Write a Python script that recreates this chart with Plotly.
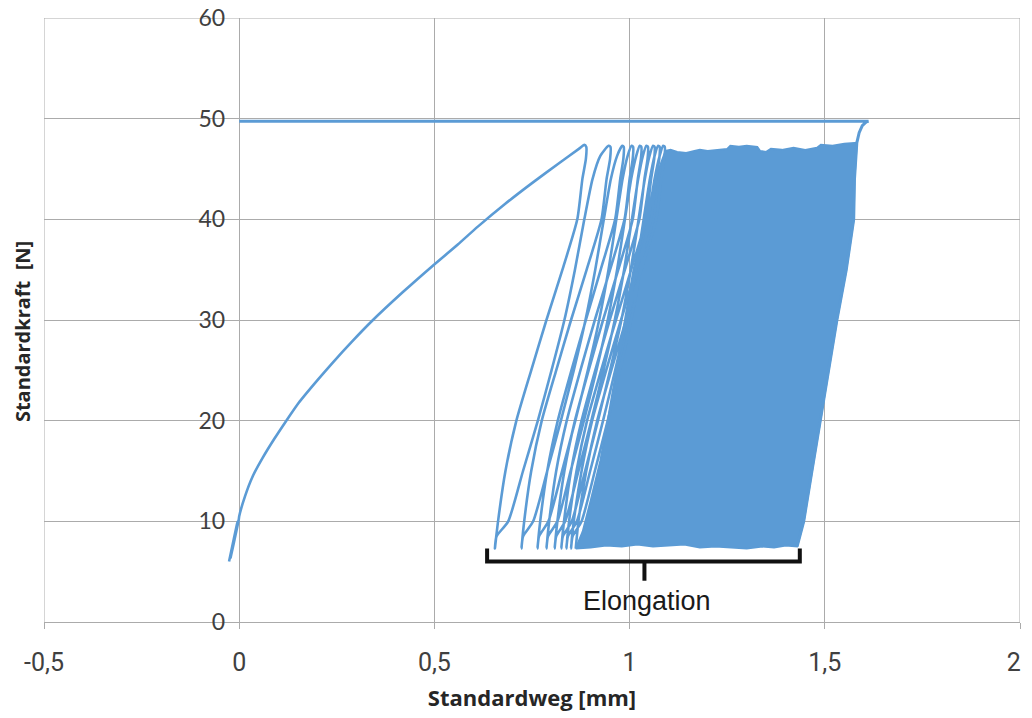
import plotly.graph_objects as go

# ---------------- data ----------------
# initial loading ramp (Standardweg [mm], Standardkraft [N])
init_x = [-0.026, -0.004, -0.022, -0.001, 0.000, 0.015, 0.035, 0.060, 0.090, 0.119, 0.153,
          0.200, 0.238, 0.290, 0.340, 0.420, 0.493, 0.560, 0.612, 0.680, 0.750, 0.820,
          0.870, 0.884]
init_y = [6.0, 10.0, 6.4, 10.2, 10.5, 12.5, 14.5, 16.3, 18.2, 19.9, 21.8,
          24.0, 25.7, 27.9, 29.9, 32.8, 35.3, 37.5, 39.3, 41.5, 43.6, 45.6,
          47.0, 47.4]

# first, clearly separated load/unload cycles
cyc_x = [0.889, 0.888, 0.879, 0.866, 0.828, 0.787, 0.748, 0.710, 0.682, 0.663, 0.655,
         0.659, 0.689, 0.727, 0.765, 0.800, 0.833, 0.860, 0.884, 0.905, 0.925, 0.946,
         0.951, 0.950, 0.941, 0.928, 0.890, 0.850, 0.812, 0.775, 0.748, 0.730, 0.723,
         0.727, 0.753, 0.789, 0.824, 0.857, 0.887, 0.912, 0.934, 0.952, 0.968, 0.981,
         0.985, 0.984, 0.976, 0.963, 0.926, 0.888, 0.851, 0.816, 0.789, 0.771, 0.764,
         0.768, 0.792, 0.827, 0.861, 0.893, 0.922, 0.946, 0.966, 0.982, 0.995, 1.005,
         1.009, 1.008, 1.000, 0.987, 0.950, 0.911, 0.874, 0.839, 0.812, 0.794, 0.787,
         0.791, 0.815, 0.849, 0.883, 0.915, 0.944, 0.968, 0.988, 1.004, 1.017, 1.026,
         1.030, 1.029, 1.021, 1.008, 0.971, 0.932, 0.895, 0.860, 0.833, 0.815, 0.808,
         0.812, 0.835, 0.869, 0.902, 0.933, 0.962, 0.986, 1.006, 1.022, 1.034, 1.043,
         1.047, 1.046, 1.038, 1.025, 0.988, 0.949, 0.912, 0.877, 0.850, 0.832, 0.825,
         0.829, 0.852, 0.886, 0.919, 0.950, 0.979, 1.003, 1.023, 1.039, 1.051, 1.060,
         1.064, 1.063, 1.055, 1.042, 1.004, 0.965, 0.927, 0.891, 0.864, 0.845, 0.838,
         0.842, 0.865, 0.899, 0.932, 0.963, 0.992, 1.016, 1.036, 1.052, 1.064, 1.073,
         1.077, 1.076, 1.068, 1.055, 1.017, 0.978, 0.940, 0.904, 0.877, 0.857, 0.850,
         0.854, 0.877, 0.911, 0.944, 0.975, 1.004, 1.028, 1.048, 1.064, 1.077, 1.086,
         1.090, 1.089, 1.081, 1.068, 1.030, 0.991, 0.953, 0.917, 0.889, 0.869, 0.862]
cyc_y = [47.2, 46.0, 44.0, 40.0, 35.0, 30.0, 25.0, 20.0, 15.0, 10.0, 7.3,
         8.5, 10.0, 15.0, 20.0, 25.0, 30.0, 35.0, 40.0, 44.0, 46.3, 47.3] * 8 + \
        [47.2, 46.0, 44.0, 40.0, 35.0, 30.0, 25.0, 20.0, 15.0, 10.0, 7.3]

# outline of the densely overlapping cycles (appears as a solid band)
dense_x = [0.862, 0.880, 0.900, 0.925, 0.944, 0.966, 0.987, 1.010, 1.035, 1.055, 1.075, 1.092,
           1.105, 1.122, 1.145, 1.166, 1.180, 1.200, 1.225, 1.250, 1.258, 1.280, 1.300, 1.327,
           1.334, 1.350, 1.362, 1.390, 1.420, 1.450, 1.480, 1.490, 1.520, 1.550, 1.582,
           1.576, 1.574, 1.555, 1.531, 1.510, 1.488, 1.467, 1.446, 1.429,
           1.400, 1.370, 1.340, 1.300, 1.260, 1.220, 1.180, 1.140, 1.100, 1.060, 1.020,
           0.980, 0.940, 0.900, 0.862]
dense_y = [7.3, 9.0, 12.0, 16.0, 20.0, 25.0, 30.0, 35.0, 39.0, 42.0, 45.0, 46.8,
           46.9, 46.7, 46.6, 46.8, 46.9, 46.8, 46.9, 47.0, 47.3, 47.2, 47.3, 47.2,
           46.8, 46.7, 47.0, 46.9, 47.1, 46.9, 47.1, 47.4, 47.3, 47.5, 47.6,
           44.0, 40.0, 35.0, 30.0, 25.0, 20.0, 15.0, 10.0, 7.5,
           7.6, 7.4, 7.5, 7.3, 7.4, 7.5, 7.4, 7.7, 7.6, 7.5, 7.7,
           7.5, 7.6, 7.4, 7.3]

# last loading branch and the final hold line
final_x = [1.429, 1.446, 1.467, 1.488, 1.510, 1.531, 1.555, 1.574, 1.576, 1.582,
           1.588, 1.596, 1.607, 1.612, 0.000]
final_y = [7.5, 10.0, 15.0, 20.0, 25.0, 30.0, 35.0, 40.0, 44.0, 47.6,
           48.6, 49.3, 49.7, 49.75, 49.75]

x_tick_vals = [-0.5, 0, 0.5, 1, 1.5, 2]
x_tick_text = ["-0,5", "0", "0,5", "1", "1,5", "2\u00a0\u00a0"]
y_tick_vals = [0, 10, 20, 30, 40, 50, 60]
x_range = [-0.5, 2]
y_range = [0, 60]

# bracket annotation (data coordinates)
bracket_x = [0.635, 1.436]
bracket_y_line = 6.0
bracket_y_end = 7.3
bracket_mid_x = 1.038
bracket_mid_y = 4.1
label_text = "Elongation"
label_pos = (1.045, 2.1)

# ---------------- figure ----------------
BLUE = "#5B9BD5"
GRID = "#ababab"

fig = go.Figure()
fig.add_trace(go.Scatter(x=dense_x, y=dense_y, mode="lines", fill="toself",
                         fillcolor=BLUE, line=dict(color=BLUE, width=2),
                         hoverinfo="skip", showlegend=False))
fig.add_trace(go.Scatter(x=init_x + cyc_x, y=init_y + cyc_y, mode="lines",
                         line=dict(color=BLUE, width=2.6, shape="spline", smoothing=0.6),
                         showlegend=False))
fig.add_trace(go.Scatter(x=final_x, y=final_y, mode="lines",
                         line=dict(color=BLUE, width=3), showlegend=False))

# plot-area edge gridlines (left, right, top)
for xv in (x_range[0], x_range[1]):
    fig.add_shape(type="line", x0=xv, x1=xv, y0=y_range[0], y1=y_range[1],
                  line=dict(color=GRID, width=1), layer="below")
fig.add_shape(type="line", x0=x_range[0], x1=x_range[1], y0=y_range[1], y1=y_range[1],
              line=dict(color=GRID, width=1), layer="below")

# bracket
fig.add_shape(type="path",
              path=(f"M {bracket_x[0]},{bracket_y_end} L {bracket_x[0]},{bracket_y_line} "
                    f"L {bracket_x[1]},{bracket_y_line} L {bracket_x[1]},{bracket_y_end}"),
              line=dict(color="#111111", width=4))
fig.add_shape(type="line", x0=bracket_mid_x, x1=bracket_mid_x,
              y0=bracket_y_line, y1=bracket_mid_y, line=dict(color="#111111", width=4))
fig.add_annotation(x=label_pos[0], y=label_pos[1], text=label_text, showarrow=False,
                   font=dict(family="Liberation Sans, Arial", size=27, color="#1a1a1a"),
                   xanchor="center", yanchor="middle")

# y-axis title placed at far left
fig.add_annotation(x=-0.0225, y=0.48, xref="paper", yref="paper",
                   text="<b>Standardkraft  [N]</b>", textangle=-90, showarrow=False,
                   xanchor="center", yanchor="middle",
                   font=dict(family="Open Sans, DejaVu Sans", size=20, color="#262626"))

# the page body adds an 8px offset, so the figure is sized to the visible area
fig.update_layout(
    width=1016, height=710,
    margin=dict(l=36, r=4, t=10, b=96, autoexpand=False),
    paper_bgcolor="white", plot_bgcolor="white",
    separators=",.",
    xaxis=dict(range=x_range, tickvals=x_tick_vals, ticktext=x_tick_text,
               automargin=False, ticklabeloverflow="allow",
               showgrid=True, gridcolor=GRID, gridwidth=1, zeroline=False,
               showline=True, linecolor=GRID, mirror=False,
               ticks="outside", ticklen=6, tickcolor=GRID,
               ticklabelstandoff=12,
               tickfont=dict(family="Liberation Sans Narrow, Roboto, Arial", size=25, color="#404040"),
               title=dict(text="<b>Standardweg [mm]</b>", standoff=14,
                          font=dict(family="Open Sans, DejaVu Sans", size=22, color="#262626"))),
    yaxis=dict(range=y_range, tickvals=y_tick_vals, automargin=False,
               ticklabeloverflow="allow",
               showgrid=True, gridcolor=GRID, gridwidth=1, zeroline=False,
               anchor="free", position=0.2, showline=False, ticks="",
               ticklabelstandoff=14,
               tickfont=dict(family="Lato, Open Sans", size=23, color="#404040")),
)

fig.write_html("out.html")
